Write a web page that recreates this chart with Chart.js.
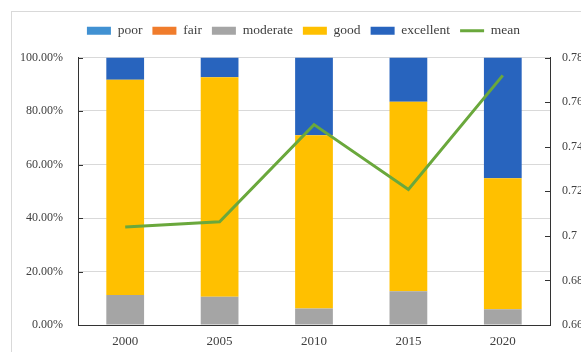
<!DOCTYPE html>
<html>
<head>
<meta charset="utf-8">
<script src="https://cdn.jsdelivr.net/npm/chart.js@4/dist/chart.umd.min.js"></script>
<style>
  html, body { margin: 0; padding: 0; background: #fff; }
  canvas { display: block; }
</style>
</head>
<body>
<canvas id="grafico" width="581" height="352"></canvas>
<script>
// Datos
const anios = ["2000", "2005", "2010", "2015", "2020"];
const poor = [0, 0, 0, 0, 0];
const fair = [0, 0, 0, 0, 0];
const moderate = [11.2, 10.6, 6.2, 12.6, 5.9];
const good = [80.5, 82.0, 64.7, 70.9, 49.0];
const excellent = [8.3, 7.4, 29.1, 16.5, 45.1];
const mean = [0.704, 0.7063, 0.7499, 0.7208, 0.772];

// Colores
const colores = {
  poor: "#4191d2",
  fair: "#f07c2c",
  moderate: "#a5a5a5",
  good: "#ffc000",
  excellent: "#2864be",
  mean: "#6aa83c"
};

const fuente = "'Liberation Serif', 'DejaVu Serif', serif";
const textoColor = "#404040";

// Marco gris alrededor del gráfico
const marco = {
  id: "marco",
  beforeDraw(chart) {
    const ctx = chart.ctx;
    ctx.save();
    ctx.fillStyle = "#fff";
    ctx.fillRect(0, 0, chart.width, chart.height);
    ctx.strokeStyle = "#d9d9d9";
    ctx.lineWidth = 1;
    ctx.strokeRect(11.5, 11.5, chart.width + 20, chart.height + 20);
    ctx.restore();
  }
};

// Espacio extra debajo de la leyenda y leyenda un poco a la derecha
const ajusteLeyenda = {
  id: "ajusteLeyenda",
  beforeLayout(chart) {
    const lg = chart.legend;
    if (lg && !lg._conEspacio) {
      const fitOriginal = lg.fit.bind(lg);
      lg.fit = function () {
        fitOriginal();
        this.height += 10;
      };
      lg._conEspacio = true;
    }
  },
  afterLayout(chart) {
    if (chart.legend) chart.legend.left = 26;
  }
};

// Marcas de graduación hacia adentro en ambos ejes verticales
const marcas = {
  id: "marcas",
  afterDraw(chart) {
    const ctx = chart.ctx;
    ctx.save();
    ctx.strokeStyle = "#333";
    ctx.lineWidth = 1;
    const y = chart.scales.y;
    y.ticks.forEach(t => {
      const py = Math.round(y.getPixelForValue(t.value)) + 0.5;
      ctx.beginPath();
      ctx.moveTo(y.right, py);
      ctx.lineTo(y.right + 5, py);
      ctx.stroke();
    });
    const y1 = chart.scales.y1;
    y1.ticks.forEach(t => {
      const py = Math.round(y1.getPixelForValue(t.value)) + 0.5;
      ctx.beginPath();
      ctx.moveTo(y1.left - 5, py);
      ctx.lineTo(y1.left, py);
      ctx.stroke();
    });
    ctx.restore();
  }
};

function barra(label, data, color) {
  return {
    type: "bar",
    label: label,
    data: data,
    backgroundColor: color,
    borderWidth: 0,
    pointStyle: "rect",
    yAxisID: "y",
    categoryPercentage: 1,
    barPercentage: 0.4,
    order: 1
  };
}

const datos = {
  labels: anios,
  datasets: [
    barra("poor", poor, colores.poor),
    barra("fair", fair, colores.fair),
    barra("moderate", moderate, colores.moderate),
    barra("good", good, colores.good),
    barra("excellent", excellent, colores.excellent),
    {
      type: "line",
      label: "mean",
      data: mean,
      borderColor: colores.mean,
      backgroundColor: colores.mean,
      borderWidth: 3,
      pointRadius: 0,
      pointStyle: "line",
      tension: 0,
      yAxisID: "y1",
      order: 0
    }
  ]
};

new Chart(document.getElementById("grafico"), {
  type: "bar",
  data: datos,
  plugins: [marco, ajusteLeyenda, marcas],
  options: {
    responsive: false,
    animation: false,
    layout: { padding: { left: 0, right: 0, top: 14, bottom: 0 } },
    plugins: {
      tooltip: { enabled: false },
      legend: {
        position: "top",
        labels: {
          usePointStyle: true,
          pointStyleWidth: 24,
          boxHeight: 8,
          padding: 10,
          color: textoColor,
          font: { family: fuente, size: 13.5 },
          sort: (a, b) => a.datasetIndex - b.datasetIndex
        }
      }
    },
    scales: {
      x: {
        stacked: true,
        grid: { display: false, drawTicks: false },
        border: { display: true, color: "#333", width: 1 },
        ticks: { color: textoColor, font: { family: fuente, size: 13 }, padding: 9 },
        afterFit: s => { s.height = 27; }
      },
      y: {
        stacked: true,
        position: "left",
        min: 0,
        max: 100,
        grid: { color: "#d9d9d9", drawTicks: false },
        border: { display: true, color: "#333", width: 1 },
        ticks: {
          stepSize: 20,
          padding: 15,
          color: textoColor,
          font: { family: fuente, size: 12 },
          callback: v => v.toFixed(2) + "%"
        },
        afterFit: s => { s.width = 78; }
      },
      y1: {
        position: "right",
        min: 0.66,
        max: 0.78,
        grid: { display: false, drawTicks: false },
        border: { display: true, color: "#333", width: 1 },
        ticks: {
          stepSize: 0.02,
          padding: 12,
          color: textoColor,
          font: { family: fuente, size: 12 },
          callback: v => (Math.round(v * 100) / 100).toString()
        },
        afterFit: s => { s.width = 31; }
      }
    }
  }
});
</script>
</body>
</html>
